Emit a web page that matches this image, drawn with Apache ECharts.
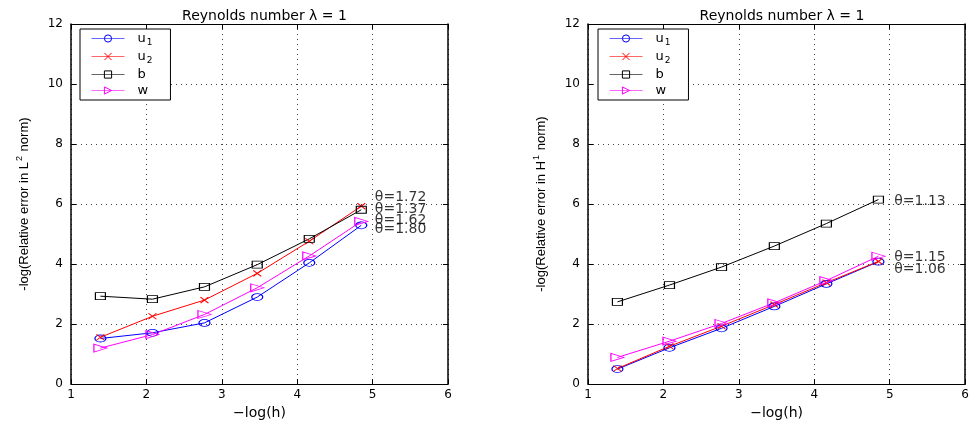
<!DOCTYPE html>
<html>
<head>
<meta charset="utf-8">
<script src="https://cdn.jsdelivr.net/npm/echarts@6/dist/echarts.min.js"></script>
<style>
html,body{margin:0;padding:0;background:#fff;}
#chart{width:972px;height:425px;}
</style>
</head>
<body>
<div id="chart"></div>
<script>
// ---- data ----
const xVals = [1.39, 2.08, 2.77, 3.47, 4.16, 4.85];
const xTicks = [1, 2, 3, 4, 5, 6];
const yTicks = [0, 2, 4, 6, 8, 10, 12];
const seriesNames = ['u1', 'u2', 'b', 'w'];

const leftU1 = [1.52, 1.71, 2.04, 2.90, 4.04, 5.29];
const leftU2 = [1.56, 2.26, 2.80, 3.69, 4.76, 5.93];
const leftB  = [2.93, 2.83, 3.24, 3.98, 4.84, 5.81];
const leftW  = [1.20, 1.65, 2.32, 3.21, 4.27, 5.42];

const rightU1 = [0.50, 1.21, 1.86, 2.59, 3.34, 4.08];
const rightU2 = [0.52, 1.26, 1.93, 2.65, 3.38, 4.09];
const rightB  = [2.74, 3.30, 3.90, 4.60, 5.35, 6.15];
const rightW  = [0.89, 1.43, 2.02, 2.71, 3.45, 4.26];

const leftNotes  = [['θ=1.72', 5.03, 6.23], ['θ=1.37', 5.03, 5.82], ['θ=1.62', 5.03, 5.44], ['θ=1.80', 5.03, 5.14]];
const rightNotes = [['θ=1.13', 5.06, 6.10], ['θ=1.15', 5.06, 4.24], ['θ=1.06', 5.06, 3.83]];

const titleText = 'Reynolds number λ = 1';
const xName = '−log(h)';
const yNameLeft = '-log(Relative error in L{sup|2} norm)';
const yNameRight = '-log(Relative error in H{sup|1} norm)';

// ---- styling ----
const FONT = 'DejaVu Sans';
const colors = { u1: '#0000ff', u2: '#ff0000', b: '#000000', w: '#ff00ff' };
const symbols = {
  u1: { symbol: 'circle', size: [11, 7] },
  u2: { symbol: 'path://M0,0L10,10M0,10L10,0', size: [8, 6] },
  b:  { symbol: 'rect', size: [10, 7] },
  w:  { symbol: 'path://M0,0L10,5L0,10Z', size: [13, 8] }
};
const grids = [
  { left: 71, top: 24, width: 377, height: 369 },
  { left: 588, top: 24, width: 378, height: 369 }
];

const chart = echarts.init(document.getElementById('chart'));

function pairs(ys) { return xVals.map((x, i) => [x, ys[i]]); }

function lineSeries(name, ys, gi) {
  const c = colors[name];
  return {
    type: 'line', name: name, xAxisIndex: gi * 2, yAxisIndex: gi * 2,
    data: pairs(ys),
    symbol: symbols[name].symbol, symbolSize: symbols[name].size,
    showAllSymbol: true,
    lineStyle: { color: c, width: 1 },
    itemStyle: { color: 'rgba(0,0,0,0)', borderColor: c, borderWidth: 1 },
    emphasis: { disabled: true },
    z: 3
  };
}

function noteSeries(notes, gi) {
  return {
    type: 'scatter', name: 'notes' + gi, xAxisIndex: gi * 2, yAxisIndex: gi * 2,
    data: notes.map(n => [n[1], n[2], n[0]]),
    symbolSize: 0,
    label: {
      show: true, position: 'right', distance: 0,
      formatter: p => p.value[2],
      fontFamily: FONT, fontSize: 14, color: '#000'
    },
    emphasis: { disabled: true },
    z: 4
  };
}

const xAxes = [], yAxes = [];
[0, 1].forEach(gi => {
  xAxes.push({
    gridIndex: gi, type: 'value', min: 1, max: 6, interval: 1, position: 'bottom',
    name: xName, nameLocation: 'middle', nameGap: 21,
    nameTextStyle: { fontFamily: FONT, fontSize: 14, color: '#000' },
    axisLine: { show: true, onZero: false, lineStyle: { color: '#000', width: 1 } },
    axisTick: { show: true, inside: true, length: 5, lineStyle: { color: '#000' } },
    axisLabel: { show: true, fontFamily: FONT, fontSize: 12, color: '#000', margin: 5,
      formatter: v => xTicks.includes(v) ? String(v) : '' },
    splitLine: { show: true, lineStyle: { color: '#444', type: [1, 4], width: 1 } }
  });
  xAxes.push({
    gridIndex: gi, type: 'value', min: 1, max: 6, interval: 1, position: 'top',
    axisLine: { show: true, onZero: false, lineStyle: { color: '#000', width: 1 } },
    axisTick: { show: true, inside: true, length: 5, lineStyle: { color: '#000' } },
    axisLabel: { show: false }, splitLine: { show: false }
  });
  yAxes.push({
    gridIndex: gi, type: 'value', min: 0, max: 12, interval: 2, position: 'left',
    name: gi === 0 ? yNameLeft : yNameRight, nameLocation: 'middle', nameGap: 38,
    nameTextStyle: {
      fontFamily: 'Liberation Sans Narrow, Liberation Sans, Arial', fontSize: 13, color: '#000',
      rich: { sup: { fontSize: 9, fontFamily: 'Liberation Sans Narrow, Liberation Sans, Arial', padding: [0, 1, 9, 1] } }
    },
    axisLine: { show: true, onZero: false, lineStyle: { color: '#000', width: 1.5 } },
    axisTick: { show: true, inside: true, length: 5, lineStyle: { color: '#000' } },
    axisLabel: { show: true, fontFamily: FONT, fontSize: 12, color: '#000', margin: 8,
      formatter: v => yTicks.includes(v) ? String(v) : '' },
    splitLine: { show: true, lineStyle: { color: '#444', type: [1, 4], width: 1 } }
  });
  yAxes.push({
    gridIndex: gi, type: 'value', min: 0, max: 12, interval: 2, position: 'right',
    axisLine: { show: true, onZero: false, lineStyle: { color: '#000', width: 1.5 } },
    axisTick: { show: true, inside: true, length: 5, lineStyle: { color: '#000' } },
    axisLabel: { show: false }, splitLine: { show: false }
  });
});

function legendFor(gi) {
  return {
    show: true, orient: 'vertical',
    left: gi === 0 ? 80 : 598, top: 29,
    data: seriesNames.map(n => ({
      name: n,
      itemStyle: { color: 'rgba(0,0,0,0)', borderColor: colors[n], borderWidth: 1 },
      lineStyle: { color: colors[n], width: 1, opacity: 0.6 }
    })),
    backgroundColor: '#fff', borderColor: '#000', borderWidth: 1, borderRadius: 0,
    padding: [3, 18, 3, 11],
    itemWidth: 33, itemHeight: 9, itemGap: 3,
    selectedMode: false,
    formatter: n => n.length > 1 ? n[0] + '{sub|' + n.slice(1) + '}' : n,
    textStyle: {
      fontFamily: FONT, fontSize: 13, color: '#000', padding: [0, 0, 0, 8],
      rich: { sub: { fontFamily: FONT, fontSize: 9, padding: [8, 0, 0, 1] } }
    }
  };
}

const option = {
  animation: false,
  backgroundColor: '#fff',
  title: [0, 1].map(gi => ({
    text: titleText,
    left: grids[gi].left + grids[gi].width / 2, top: 4, textAlign: 'center',
    textStyle: { fontFamily: FONT, fontSize: 14, fontWeight: 'normal', color: '#000' }
  })),
  legend: [legendFor(0), legendFor(1)],
  grid: grids.map(g => Object.assign({ containLabel: false, show: false }, g)),
  xAxis: xAxes,
  yAxis: yAxes,
  series: [
    lineSeries('u1', leftU1, 0), lineSeries('u2', leftU2, 0),
    lineSeries('b', leftB, 0), lineSeries('w', leftW, 0),
    lineSeries('u1', rightU1, 1), lineSeries('u2', rightU2, 1),
    lineSeries('b', rightB, 1), lineSeries('w', rightW, 1),
    noteSeries(leftNotes, 0), noteSeries(rightNotes, 1)
  ]
};
chart.setOption(option);
</script>
</body>
</html>
